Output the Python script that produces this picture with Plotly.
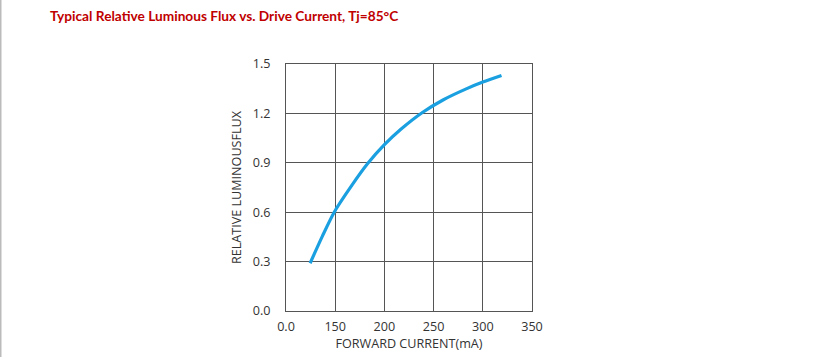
import plotly.graph_objects as go

# Data
current_ma = [124.5, 137, 149, 166, 183, 200, 217, 239, 260, 282, 300, 319]
rel_flux = [0.29, 0.455, 0.60, 0.755, 0.895, 1.01, 1.105, 1.207, 1.283, 1.346, 1.39, 1.43]

x_tick_vals = [100, 150, 200, 250, 300, 350]
x_tick_text = ["0.0", "150", "200", "250", "300", "350"]
y_tick_vals = [0.0, 0.3, 0.6, 0.9, 1.2, 1.5]
y_tick_text = ["0.0", "0.3", "0.6", "0.9", "1.2", "1.5"]

title_text = "Typical Relative Luminous Flux vs. Drive Current, Tj=85°C"

W, H = 817, 357
L, R, T, B = 286, 285, 64, 46
PW, PH = W - L - R, H - T - B

fig = go.Figure()
fig.add_trace(go.Scatter(
    x=current_ma, y=rel_flux, mode="lines",
    line=dict(color="#1AA0E0", width=3.2, shape="spline", smoothing=0.8),
    hoverinfo="skip", showlegend=False,
))

tick_font = dict(family="Open Sans, DejaVu Sans, sans-serif", size=12.6, color="#333333")

fig.update_layout(
    width=W, height=H,
    margin=dict(l=L, r=R, t=T, b=B, autoexpand=False),
    paper_bgcolor="white", plot_bgcolor="white",
    showlegend=False,
    annotations=[dict(
        text="<b>" + title_text + "</b>", xref="paper", yref="paper",
        x=(48 - L) / PW, y=1 + (T - 16) / PH, xanchor="left", yanchor="middle",
        showarrow=False,
        font=dict(family="Lato, Open Sans, sans-serif", size=13.7, color="#C00000"),
    )],
    shapes=[dict(type="line", xref="paper", yref="paper",
                 x0=(0.5 - L) / PW, x1=(0.5 - L) / PW, y0=-B / PH, y1=1 + T / PH,
                 line=dict(color="#BBBBBB", width=2))],
)
fig.update_xaxes(
    range=[100, 350], tickvals=x_tick_vals, ticktext=x_tick_text,
    showgrid=True, gridcolor="#555555", gridwidth=1,
    showline=True, linecolor="#555555", linewidth=1, mirror=True,
    ticks="", ticklabelstandoff=4, tickfont=tick_font, zeroline=False,
    title=dict(text="FORWARD CURRENT(mA)", font=tick_font, standoff=4),
    automargin=False, fixedrange=True,
)
fig.update_yaxes(
    range=[0, 1.5], tickvals=y_tick_vals, ticktext=y_tick_text,
    showgrid=True, gridcolor="#555555", gridwidth=1,
    showline=True, linecolor="#555555", linewidth=1, mirror=True,
    ticks="", ticklabelstandoff=12, tickfont=tick_font, zeroline=False,
    title=dict(text="RELATIVE LUMINOUSFLUX", font=tick_font, standoff=8),
    automargin=False, fixedrange=True,
)

fig.write_html("out.html", config={"displayModeBar": False})
